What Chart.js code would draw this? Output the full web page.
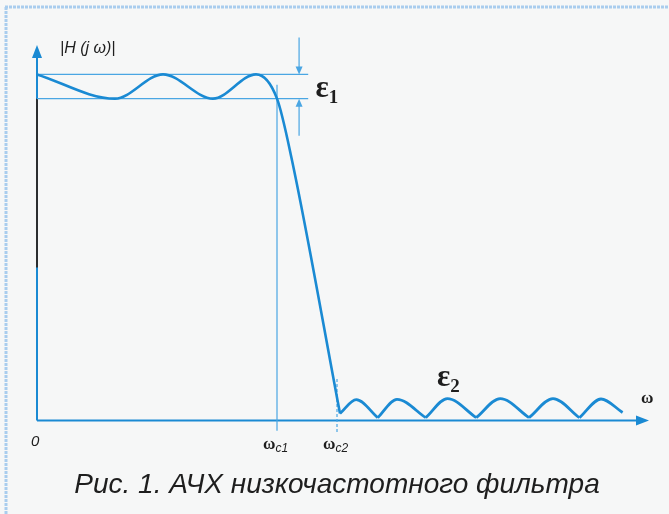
<!DOCTYPE html>
<html>
<head>
<meta charset="utf-8">
<script src="https://cdn.jsdelivr.net/npm/chart.js@4.4.1/dist/chart.umd.min.js"></script>
<style>
  html, body { margin: 0; padding: 0; background: #f6f7f7; }
  canvas { display: block; }
</style>
</head>
<body>
<canvas id="afc" width="669" height="514"></canvas>
<script>
// ω is normalised so that ωc1 = 1, |H| so that the top of the ripple band = 1
const passX = [0, 0.325, 0.525, 0.733, 0.9125, 1.0, 1.06, 1.2625];
const passY = [1.0, 0.93, 1.0, 0.93, 1.0, 0.93, 0.76, 0.02];

// stopband ripple (cusps + peaks)
const stopMinX = [1.2625, 1.42, 1.62, 1.83, 2.05, 2.26, 2.44];
const stopMinY = [0.02, 0.008, 0.008, 0.008, 0.008, 0.008, 0.023];
const stopPeakX = [1.33, 1.50, 1.71, 1.93, 2.15, 2.35];
const stopPeakY = [0.06, 0.061, 0.063, 0.063, 0.063, 0.062];

const bandTop = 1.0;
const bandBottom = 0.93;
const wc1 = 1.0;
const wc2 = 1.25;

const yLabel = '|H (j ω)|';
const xLabel = 'ω';
const tickLabels = ['0', 'c1', 'c2'];
const caption = 'Рис. 1. АЧХ низкочастотного фильтра';

const BLUE = '#1a8ad3';
const THIN = '#4aa6e3';

const pts = (xs, ys) => xs.map((x, i) => ({ x: x, y: ys[i] }));

const datasets = [];

datasets.push({
    data: pts(passX, passY),
    borderColor: BLUE,
    borderWidth: 2.6,
    cubicInterpolationMode: 'monotone'
});

for (let i = 0; i < stopPeakX.length; i++) {
    datasets.push({
        data: [
            { x: stopMinX[i], y: stopMinY[i] },
            { x: stopPeakX[i], y: stopPeakY[i] },
            { x: stopMinX[i + 1], y: stopMinY[i + 1] }
        ],
        borderColor: BLUE,
        borderWidth: 2.8,
        cubicInterpolationMode: 'monotone'
    });
}

// ripple band limits
[bandTop, bandBottom].forEach(v => {
    datasets.push({
        data: [{ x: 0, y: v }, { x: 1.13, y: v }],
        borderColor: THIN,
        borderWidth: 1.2
    });
});

// cut-off markers
datasets.push({
    data: [{ x: wc1, y: 0.97 }, { x: wc1, y: -0.03 }],
    borderColor: THIN,
    borderWidth: 1.2
});
datasets.push({
    data: [{ x: wc2, y: 0.12 }, { x: wc2, y: -0.035 }],
    borderColor: THIN,
    borderWidth: 1.2,
    borderDash: [3, 2]
});

datasets.forEach(d => {
    d.showLine = true;
    d.pointRadius = 0;
    d.clip = false;
    d.fill = false;
});

function arrow(ctx, x, y, dir, len, half) {
    ctx.beginPath();
    if (dir === 'up') {
        ctx.moveTo(x, y); ctx.lineTo(x - half, y + len); ctx.lineTo(x + half, y + len);
    } else if (dir === 'down') {
        ctx.moveTo(x, y); ctx.lineTo(x - half, y - len); ctx.lineTo(x + half, y - len);
    } else {
        ctx.moveTo(x, y); ctx.lineTo(x - len, y - half); ctx.lineTo(x - len, y + half);
    }
    ctx.closePath();
    ctx.fill();
}

const decor = {
    id: 'decor',
    beforeDraw(chart) {
        const ctx = chart.ctx;
        ctx.save();
        ctx.fillStyle = '#f6f7f7';
        ctx.fillRect(0, 0, chart.width, chart.height);
        // scanned page edge
        ctx.strokeStyle = '#a9cdee';
        ctx.lineWidth = 3;
        ctx.setLineDash([3, 1]);
        ctx.beginPath();
        ctx.moveTo(5, 7); ctx.lineTo(chart.width, 7);
        ctx.moveTo(6, 7); ctx.lineTo(6, chart.height);
        ctx.stroke();
        ctx.restore();
    },
    beforeDatasetsDraw(chart) {
        const ctx = chart.ctx;
        const xs = chart.scales.x, ys = chart.scales.y;
        const x0 = xs.getPixelForValue(0), y0 = ys.getPixelForValue(0);
        const xEnd = xs.getPixelForValue(xs.max), yEnd = ys.getPixelForValue(ys.max);
        ctx.save();
        ctx.strokeStyle = BLUE;
        ctx.fillStyle = BLUE;
        ctx.lineWidth = 2;
        ctx.beginPath();
        ctx.moveTo(x0, y0); ctx.lineTo(xEnd - 8, y0);
        ctx.moveTo(x0, y0); ctx.lineTo(x0, yEnd + 8);
        ctx.stroke();
        arrow(ctx, xEnd, y0, 'right', 13, 5);
        arrow(ctx, x0, yEnd, 'up', 13, 5);
        // darker stretch of the ordinate
        ctx.strokeStyle = '#2b2e30';
        ctx.beginPath();
        ctx.moveTo(x0, ys.getPixelForValue(bandBottom));
        ctx.lineTo(x0, ys.getPixelForValue(0.442));
        ctx.stroke();

        // ε1 dimension arrows
        const ex = xs.getPixelForValue(1.092);
        const pTop = ys.getPixelForValue(bandTop), pBot = ys.getPixelForValue(bandBottom);
        ctx.strokeStyle = THIN;
        ctx.fillStyle = THIN;
        ctx.lineWidth = 1.2;
        ctx.beginPath();
        ctx.moveTo(ex, pTop - 37); ctx.lineTo(ex, pTop - 6);
        ctx.moveTo(ex, pBot + 6); ctx.lineTo(ex, pBot + 37);
        ctx.stroke();
        arrow(ctx, ex, pTop, 'down', 8, 3.5);
        arrow(ctx, ex, pBot, 'up', 8, 3.5);
        ctx.restore();
    },
    afterDraw(chart) {
        const ctx = chart.ctx;
        const xs = chart.scales.x, ys = chart.scales.y;
        const x0 = xs.getPixelForValue(0), y0 = ys.getPixelForValue(0);
        ctx.save();
        ctx.fillStyle = '#1e1e1e';
        ctx.textBaseline = 'alphabetic';

        ctx.font = 'italic 16px "Liberation Sans", Arial, sans-serif';
        ctx.textAlign = 'left';
        ctx.fillText(yLabel, x0 + 23, ys.getPixelForValue(ys.max) + 8);

        ctx.font = 'italic 15px "Liberation Sans", Arial, sans-serif';
        ctx.fillText(tickLabels[0], x0 - 6, y0 + 26);

        [wc1, wc2].forEach((w, i) => {
            const px = xs.getPixelForValue(w);
            ctx.font = 'bold 17px "Liberation Serif", serif';
            ctx.textAlign = 'left';
            ctx.fillText('ω', px - 14, y0 + 29);
            const ww = ctx.measureText('ω').width;
            ctx.font = 'italic 12px "Liberation Sans", Arial, sans-serif';
            ctx.fillText(tickLabels[i + 1], px - 14 + ww, y0 + 32);
        });

        ctx.font = 'bold 17px "Liberation Serif", serif';
        ctx.fillText(xLabel, xs.getPixelForValue(xs.max) - 8, y0 - 17);

        function eps(x, y, sub) {
            ctx.font = 'bold 31px "Liberation Serif", serif';
            ctx.fillText('ε', x, y);
            const w = ctx.measureText('ε').width;
            ctx.font = 'bold 19px "Liberation Serif", serif';
            ctx.fillText(sub, x + w, y + 6);
        }
        eps(xs.getPixelForValue(1.16), ys.getPixelForValue(bandBottom) - 2, '1');
        eps(xs.getPixelForValue(1.667), ys.getPixelForValue(0.1), '2');

        ctx.font = 'italic 28px "Liberation Sans", Arial, sans-serif';
        ctx.textAlign = 'center';
        ctx.fillText(caption, 337, 493);
        ctx.restore();
    }
};

new Chart(document.getElementById('afc'), {
    type: 'scatter',
    data: { datasets: datasets },
    options: {
        responsive: false,
        animation: false,
        layout: { padding: { left: 37, right: 20, top: 45, bottom: 72.8 } },
        plugins: { legend: { display: false }, tooltip: { enabled: false } },
        scales: {
            x: { type: 'linear', min: 0, max: 2.55, display: false },
            y: { type: 'linear', min: -0.06, max: 1.085, display: false }
        }
    },
    plugins: [decor]
});
</script>
</body>
</html>
